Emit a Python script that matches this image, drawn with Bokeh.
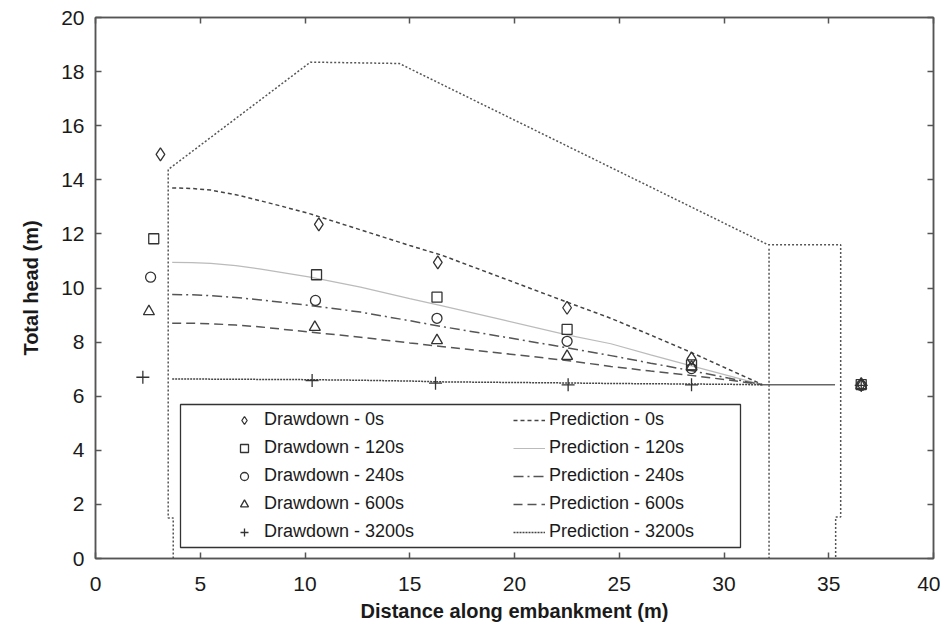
from bokeh.plotting import figure
from bokeh.models import (Legend, LegendItem, LinearAxis, FixedTicker,
                          CustomJSTickFormatter, Range1d, BoxAnnotation)
from bokeh.embed import file_html
from bokeh.resources import INLINE

# ---------------- data ----------------
x_ticks = [0, 5, 10, 15, 20, 25, 30, 35, 40]
y_ticks = [0, 2, 4, 6, 8, 10, 12, 14, 16, 18, 20]

dd_0s_x = [3.10, 10.66, 16.34, 22.51, 28.45, 36.55]
dd_0s_y = [14.94, 12.35, 10.95, 9.27, 7.39, 6.45]
dd_120s_x = [2.78, 10.55, 16.30, 22.51, 28.45, 36.55]
dd_120s_y = [11.82, 10.49, 9.66, 8.47, 7.16, 6.43]
dd_240s_x = [2.63, 10.50, 16.30, 22.51, 28.45, 36.55]
dd_240s_y = [10.40, 9.54, 8.88, 8.03, 7.02, 6.40]
dd_600s_x = [2.55, 10.47, 16.30, 22.51, 28.45, 36.55]
dd_600s_y = [9.13, 8.55, 8.06, 7.48, 7.08, 6.40]
dd_3200s_x = [2.26, 10.34, 16.23, 22.56, 28.45, 36.55]
dd_3200s_y = [6.70, 6.58, 6.48, 6.42, 6.42, 6.40]

pred_x = [3.66, 4.6, 5.5, 6.7, 7.9, 9.0, 10.25, 12.65, 15.0, 16.5, 19.5, 22.5, 24.6, 26.5, 28.4, 30.2, 31.85]
pred_0s = [13.70, 13.68, 13.62, 13.45, 13.22, 13.00, 12.74, 12.15, 11.57, 11.22, 10.35, 9.48, 8.88, 8.26, 7.63, 7.00, 6.42]
pred_120s = [10.95, 10.94, 10.91, 10.83, 10.70, 10.56, 10.40, 10.03, 9.61, 9.35, 8.81, 8.27, 7.94, 7.53, 7.13, 6.76, 6.42]
pred_240s = [9.76, 9.75, 9.72, 9.65, 9.56, 9.46, 9.35, 9.11, 8.79, 8.58, 8.19, 7.79, 7.50, 7.22, 6.95, 6.67, 6.42]
pred_600s = [8.70, 8.70, 8.68, 8.63, 8.56, 8.47, 8.37, 8.18, 7.97, 7.84, 7.58, 7.32, 7.10, 6.93, 6.77, 6.60, 6.42]
pred_3200s = [6.64, 6.64, 6.63, 6.63, 6.62, 6.62, 6.61, 6.59, 6.56, 6.53, 6.51, 6.49, 6.47, 6.46, 6.45, 6.44, 6.42]

emb_x = [3.71, 3.71, 3.47, 3.47, 10.26, 14.5, 32.1, 35.57, 35.57, 35.33, 35.33]
emb_y = [0.0, 1.5, 1.5, 14.38, 18.35, 18.3, 11.6, 11.6, 1.53, 1.53, 0.0]
toe_x = [32.15, 32.15]
toe_y = [11.45, 0.0]
tail_x = [31.85, 35.3]
tail_y = [6.42, 6.42]

# ---------------- figure ----------------
FONT = "Liberation Sans"
INK = "#1a1a1a"
FRAME = "#555555"

p = figure(width=940, height=630, output_backend="svg", toolbar_location=None,
           x_range=Range1d(0, 40), y_range=Range1d(0, 20),
           min_border_left=95, min_border_right=7, min_border_top=17,
           min_border_bottom=72)
p.xgrid.visible = False
p.ygrid.visible = False
p.outline_line_color = FRAME
p.outline_line_width = 1.5
p.background_fill_color = "white"
p.border_fill_color = "white"

for ax, ticks in ((p.xaxis[0], x_ticks), (p.yaxis[0], y_ticks)):
    ax.ticker = FixedTicker(ticks=ticks)
    ax.major_tick_in = 6
    ax.major_tick_out = 0
    ax.minor_tick_line_color = None
    ax.axis_line_color = FRAME
    ax.axis_line_width = 1.5
    ax.major_tick_line_color = FRAME
    ax.major_tick_line_width = 1.5
    ax.major_label_text_font = FONT
    ax.major_label_text_font_size = "21px"
    ax.major_label_text_color = INK
    ax.axis_label_text_font = FONT
    ax.axis_label_text_font_style = "bold"
    ax.axis_label_text_font_size = "20px"
    ax.axis_label_text_color = INK

p.xaxis.axis_label = "Distance along embankment (m)"
p.yaxis.axis_label = "Total head (m)"
p.xaxis.major_label_standoff = 18
p.xaxis.axis_label_standoff = 6
p.yaxis.major_label_standoff = 11
p.yaxis.axis_label_standoff = 16

blank = CustomJSTickFormatter(code="return ''")
top = LinearAxis(ticker=FixedTicker(ticks=x_ticks), formatter=blank)
right = LinearAxis(ticker=FixedTicker(ticks=y_ticks), formatter=blank)
for ax in (top, right):
    ax.major_tick_in = 6
    ax.major_tick_out = 0
    ax.minor_tick_line_color = None
    ax.axis_line_color = FRAME
    ax.axis_line_width = 1.5
    ax.major_tick_line_color = FRAME
    ax.major_tick_line_width = 1.5
    ax.major_label_text_font_size = "0px"
    ax.major_label_standoff = 0
p.add_layout(top, "above")
p.add_layout(right, "right")

# embankment geometry
p.line(emb_x, emb_y, line_color="#555555", line_width=1.5, line_dash="2 2")
p.line(toe_x, toe_y, line_color="#555555", line_width=1.5, line_dash="2 2")
p.line(tail_x, tail_y, line_color="#666666", line_width=1.5)

# predictions
l0 = p.line(pred_x, pred_0s, line_color="#444444", line_width=1.5, line_dash="4 3")
l1 = p.line(pred_x, pred_120s, line_color="#bbbbbb", line_width=1.2)
l2 = p.line(pred_x, pred_240s, line_color="#555555", line_width=1.5, line_dash="10 4 2 4")
l3 = p.line(pred_x, pred_600s, line_color="#555555", line_width=1.5, line_dash="9 5")
l4 = p.line(pred_x, pred_3200s, line_color="#444444", line_width=1.5, line_dash="2 1")

# drawdown measurements
mk = dict(line_color="#333333", fill_color=None, line_width=1.3)
m0 = p.scatter(dd_0s_x, dd_0s_y, marker="diamond", size=13, **mk)
m1 = p.scatter(dd_120s_x, dd_120s_y, marker="square", size=10, **mk)
m2 = p.scatter(dd_240s_x, dd_240s_y, marker="circle", size=10, **mk)
m3 = p.scatter(dd_600s_x, dd_600s_y, marker="triangle", size=11, **mk)
m4 = p.scatter(dd_3200s_x, dd_3200s_y, marker="cross", size=13, **mk)

# legend frame (screen units, relative to the plot frame)
box = BoxAnnotation(left=85, right=645, bottom=11, top=154,
                    left_units="screen", right_units="screen",
                    bottom_units="screen", top_units="screen",
                    fill_color="white", fill_alpha=1,
                    line_color="#333333", line_width=1.3, line_alpha=1)
p.add_layout(box)

leg_style = dict(label_text_font=FONT, label_text_font_size="18px",
                 label_text_color=INK, glyph_height=20, spacing=7, padding=0,
                 border_line_color=None, background_fill_alpha=0)

leg1 = Legend(items=[
    LegendItem(label="Drawdown - 0s", renderers=[m0]),
    LegendItem(label="Drawdown - 120s", renderers=[m1]),
    LegendItem(label="Drawdown - 240s", renderers=[m2]),
    LegendItem(label="Drawdown - 600s", renderers=[m3]),
    LegendItem(label="Drawdown - 3200s", renderers=[m4]),
], location=(139, 16), glyph_width=20, label_standoff=10, **leg_style)

leg2 = Legend(items=[
    LegendItem(label="Prediction - 0s", renderers=[l0]),
    LegendItem(label="Prediction - 120s", renderers=[l1]),
    LegendItem(label="Prediction - 240s", renderers=[l2]),
    LegendItem(label="Prediction - 600s", renderers=[l3]),
    LegendItem(label="Prediction - 3200s", renderers=[l4]),
], location=(418, 16), glyph_width=32, label_standoff=4, **leg_style)

p.add_layout(leg1, "center")
p.add_layout(leg2, "center")

open("out.html", "w").write(file_html(p, INLINE))
